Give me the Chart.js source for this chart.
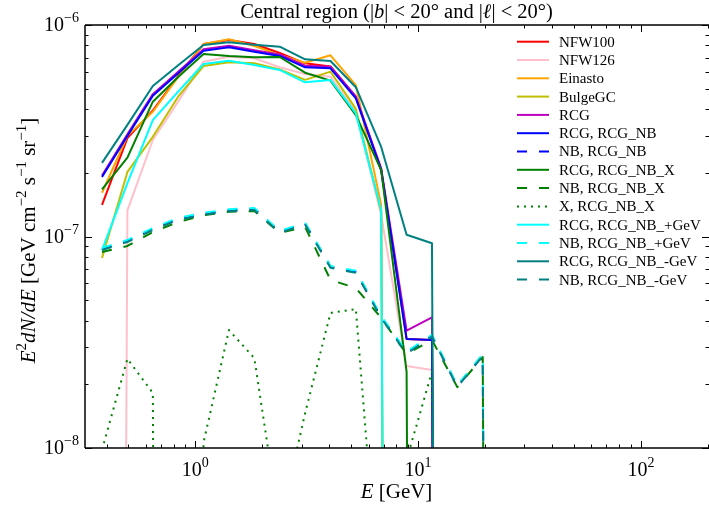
<!DOCTYPE html>
<html>
<head>
<meta charset="utf-8">
<script src="https://cdn.jsdelivr.net/npm/chart.js@4/dist/chart.umd.min.js"></script>
<style>
html,body{margin:0;padding:0;background:#fff;overflow:hidden}
#wrap{width:709px;height:505px;position:relative}
canvas{display:block}
</style>
</head>
<body>
<div id="wrap"><canvas id="c" width="709" height="505"></canvas></div>
<script>
// ---------------- data ----------------
const energyGeV = [0.3815,0.496,0.645,0.838,1.089,1.416,1.841,2.393,3.111,4.045,5.256,6.83,8.88,11.54,15.0,19.5,25.3];

const nfw100     = [1.41e-7,2.92e-7,3.94e-7,5.74e-7,8.13e-7,8.49e-7,8.13e-7,7.37e-7,6.59e-7,6.37e-7,4.59e-7,2.06e-7,3.28e-8,3.24e-8,1e-30,1e-30,1e-30];
const nfw126     = [1e-30,1.33e-7,2.86e-7,4.34e-7,6.71e-7,7.08e-7,6.96e-7,6.31e-7,5.87e-7,5.70e-7,3.89e-7,1.26e-7,2.44e-8,2.34e-8,1e-30,1e-30,1e-30];
const einasto    = [1.61e-7,2.99e-7,3.89e-7,5.68e-7,8.13e-7,8.56e-7,7.96e-7,7.22e-7,6.63e-7,7.19e-7,5.20e-7,1.41e-7,1e-30,1e-30,1e-30,1e-30,1e-30];
const bulgeGC    = [7.91e-8,2.02e-7,2.96e-7,4.58e-7,6.40e-7,6.67e-7,6.59e-7,6.17e-7,5.50e-7,6.02e-7,4.01e-7,1.31e-7,1e-30,1e-30,1e-30,1e-30,1e-30];
const rcg        = [1.94e-7,3.04e-7,4.71e-7,6.01e-7,7.69e-7,7.98e-7,7.60e-7,7.26e-7,6.42e-7,6.35e-7,4.58e-7,2.10e-7,3.59e-8,4.15e-8,1e-30,1e-30,1e-30];
const rcgNB_RCG  = [1.91e-7,2.99e-7,4.63e-7,5.91e-7,7.56e-7,7.85e-7,7.48e-7,7.14e-7,6.31e-7,6.24e-7,4.50e-7,2.06e-7,3.28e-8,3.24e-8,1e-30,1e-30,1e-30];
const rcgNB_NB   = [8.73e-8,9.52e-8,1.085e-7,1.21e-7,1.28e-7,1.33e-7,1.35e-7,1.05e-7,1.15e-7,7.18e-8,6.80e-8,4.16e-8,2.82e-8,3.39e-8,1.96e-8,2.75e-8,1e-30];
const rcgNBX_RCG = [1.67e-7,2.36e-7,4.34e-7,5.68e-7,7.29e-7,7.14e-7,7.04e-7,7.06e-7,5.95e-7,5.46e-7,3.75e-7,2.06e-7,2.29e-8,1e-30,1e-30,1e-30,1e-30];
const rcgNBX_NB  = [8.45e-8,9.02e-8,1.05e-7,1.17e-7,1.26e-7,1.31e-7,1.32e-7,1.04e-7,1.11e-7,6.23e-8,5.71e-8,4.12e-8,2.78e-8,3.24e-8,1.94e-8,2.69e-8,1e-30];
const rcgNBX_X   = [0.98e-8,2.64e-8,1.82e-8,1e-30,1.06e-8,3.61e-8,2.66e-8,4.3e-9,1.46e-8,4.35e-8,4.54e-8,1.44e-9,8.8e-9,2.29e-8,1e-30,1e-30,1e-30];
const rcgNBp_RCG = [8.63e-8,1.79e-7,3.55e-7,4.84e-7,6.54e-7,6.78e-7,6.47e-7,6.13e-7,5.36e-7,5.50e-7,3.82e-7,1.33e-7,1e-30,1e-30,1e-30,1e-30,1e-30];
const rcgNBp_NB  = [8.83e-8,9.62e-8,1.097e-7,1.223e-7,1.294e-7,1.345e-7,1.365e-7,1.062e-7,1.163e-7,7.26e-8,6.88e-8,4.21e-8,2.85e-8,3.43e-8,1.98e-8,2.78e-8,1e-30];
const rcgNBm_RCG = [2.23e-7,3.37e-7,5.15e-7,6.45e-7,8.04e-7,8.28e-7,8.07e-7,7.90e-7,6.88e-7,6.76e-7,5.08e-7,2.65e-7,1.02e-7,9.29e-8,1e-30,1e-30,1e-30];
const rcgNBm_NB  = [8.64e-8,9.42e-8,1.074e-7,1.198e-7,1.267e-7,1.317e-7,1.336e-7,1.04e-7,1.139e-7,7.11e-8,6.73e-8,4.12e-8,2.79e-8,3.36e-8,1.94e-8,2.72e-8,1e-30];

const seriesLabels = ['NFW100','NFW126','Einasto','BulgeGC','RCG','RCG, RCG_NB','NB, RCG_NB','RCG, RCG_NB_X','NB, RCG_NB_X','X, RCG_NB_X','RCG, RCG_NB_+GeV','NB, RCG_NB_+GeV','RCG, RCG_NB_-GeV','NB, RCG_NB_-GeV'];
const seriesValues = [nfw100,nfw126,einasto,bulgeGC,rcg,rcgNB_RCG,rcgNB_NB,rcgNBX_RCG,rcgNBX_NB,rcgNBX_X,rcgNBp_RCG,rcgNBp_NB,rcgNBm_RCG,rcgNBm_NB];
const seriesColors = ['#ff0000','#ffc0cb','#ffa500','#bfbf00','#bf00bf','#0000ff','#0000ff','#008000','#008000','#008000','#00ffff','#00ffff','#008080','#008080'];
const seriesStyles = ['solid','solid','solid','solid','solid','solid','dashed','solid','dashed','dotted','solid','dashed','solid','dashed'];

const xTickExponents = [0,1,2];
const yTickExponents = [-8,-7,-6];
const xRange = [0.32, 200];
const yRange = [1e-8, 1e-6];

// ---------------- chart ----------------
const SERIF = '"Liberation Serif", "DejaVu Serif", serif';
const dashFor = s => s === 'dashed' ? [10, 12] : (s === 'dotted' ? [2, 5] : []);

const N = seriesLabels.length;
const datasets = seriesLabels.map((lab, i) => ({
  label: lab,
  data: energyGeV.map((e, k) => ({x: e, y: seriesValues[i][k]})),
  borderColor: seriesColors[i],
  backgroundColor: seriesColors[i],
  borderWidth: 2,
  borderDash: dashFor(seriesStyles[i]),
  borderCapStyle: 'butt',
  borderJoinStyle: 'round',
  pointRadius: 0,
  tension: 0,
  fill: false,
  clip: 0,
  order: N - i
}));

function richWidth(ctx, segs) {
  let w = 0;
  for (const s of segs) { ctx.font = s.f; w += ctx.measureText(s.t).width; }
  return w;
}
function drawRich(ctx, segs, x, y) {
  let cx = x;
  for (const s of segs) {
    ctx.font = s.f;
    ctx.fillText(s.t, cx, y + (s.dy || 0));
    cx += ctx.measureText(s.t).width;
  }
}
function pow10Segs(e) {
  const ex = e < 0 ? '\u2212' + (-e) : String(e);
  return [{t: '10', f: '20px ' + SERIF}, {t: ex, f: '14px ' + SERIF, dy: -9}];
}

const decor = {
  id: 'decor',
  afterDatasetsDraw(chart) {
    const ctx = chart.ctx, a = chart.chartArea, xs = chart.scales.x, ys = chart.scales.y;
    ctx.save();
    ctx.fillStyle = '#000';
    ctx.strokeStyle = '#000';
    // spines
    ctx.lineWidth = 1.5;
    ctx.beginPath();
    ctx.moveTo(a.left, a.top); ctx.lineTo(a.right + 2, a.top);
    ctx.moveTo(a.left, a.bottom); ctx.lineTo(a.right + 2, a.bottom);
    ctx.moveTo(a.left, a.top); ctx.lineTo(a.left, a.bottom);
    ctx.stroke();
    // ticks (inward)
    ctx.lineWidth = 1;
    const majLen = 7, minLen = 3.5;
    ctx.beginPath();
    for (let e = -1; e <= 2; e++) {
      for (let k = 1; k <= 9; k++) {
        const v = k * Math.pow(10, e);
        if (v < xRange[0] || v > xRange[1]) continue;
        const px = Math.round(xs.getPixelForValue(v)) + 0.5;
        const L = k === 1 ? majLen : minLen;
        ctx.moveTo(px, a.bottom); ctx.lineTo(px, a.bottom - L);
        ctx.moveTo(px, a.top); ctx.lineTo(px, a.top + L);
      }
    }
    for (let e = -8; e <= -6; e++) {
      for (let k = 1; k <= 9; k++) {
        const v = k * Math.pow(10, e);
        if (v < yRange[0] * 0.999 || v > yRange[1] * 1.001) continue;
        const py = Math.round(ys.getPixelForValue(v)) + 0.5;
        const L = k === 1 ? majLen : minLen;
        ctx.moveTo(a.left, py); ctx.lineTo(a.left + L, py);
        ctx.moveTo(a.right + 1, py); ctx.lineTo(a.right + 1 - L, py);
      }
    }
    ctx.stroke();
    // tick labels
    ctx.textBaseline = 'alphabetic';
    ctx.textAlign = 'left';
    for (const e of xTickExponents) {
      const segs = pow10Segs(e);
      const w = richWidth(ctx, segs);
      const px = xs.getPixelForValue(Math.pow(10, e));
      drawRich(ctx, segs, px - w / 2, a.bottom + 28);
    }
    for (const e of yTickExponents) {
      const segs = pow10Segs(e);
      const w = richWidth(ctx, segs);
      const py = ys.getPixelForValue(Math.pow(10, e));
      drawRich(ctx, segs, a.left - 6 - w, py + 6);
    }
    // x label
    const xl = [{t: 'E', f: 'italic 21px ' + SERIF}, {t: ' [GeV]', f: '21px ' + SERIF}];
    drawRich(ctx, xl, (a.left + a.right) / 2 - richWidth(ctx, xl) / 2, 498);
    // y label
    const yl = [
      {t: 'E', f: 'italic 21px ' + SERIF}, {t: '2', f: '15px ' + SERIF, dy: -9},
      {t: 'dN/dE', f: 'italic 21px ' + SERIF},
      {t: ' [GeV cm', f: '21px ' + SERIF}, {t: '\u22122', f: '15px ' + SERIF, dy: -9},
      {t: ' s', f: '21px ' + SERIF}, {t: '\u22121', f: '15px ' + SERIF, dy: -9},
      {t: ' sr', f: '21px ' + SERIF}, {t: '\u22121', f: '15px ' + SERIF, dy: -9},
      {t: ']', f: '21px ' + SERIF}
    ];
    ctx.save();
    ctx.translate(35, (a.top + a.bottom) / 2 + 4);
    ctx.rotate(-Math.PI / 2);
    drawRich(ctx, yl, -richWidth(ctx, yl) / 2, 0);
    ctx.restore();
    // title
    const tl = [
      {t: 'Central region (|', f: '20.5px ' + SERIF}, {t: 'b', f: 'italic 20.5px ' + SERIF},
      {t: '| < 20\u00b0 and |', f: '20.5px ' + SERIF}, {t: '\u2113', f: 'italic 20.5px ' + SERIF},
      {t: '| < 20\u00b0)', f: '20.5px ' + SERIF}
    ];
    drawRich(ctx, tl, (a.left + a.right) / 2 - richWidth(ctx, tl) / 2, 18);
    // legend
    ctx.font = '15px ' + SERIF;
    ctx.textBaseline = 'middle';
    chart.data.datasets.forEach((ds, i) => {
      const ly = 41.7 + i * 18.3;
      ctx.save();
      ctx.strokeStyle = ds.borderColor;
      ctx.lineWidth = 2;
      ctx.lineCap = 'butt';
      ctx.setLineDash(ds.borderDash);
      ctx.beginPath();
      ctx.moveTo(517, ly); ctx.lineTo(549, ly);
      ctx.stroke();
      ctx.restore();
      ctx.fillStyle = '#000';
      ctx.fillText(ds.label, 559, ly + 1);
    });
    ctx.restore();
  }
};

new Chart(document.getElementById('c'), {
  type: 'line',
  data: {datasets},
  options: {
    responsive: false,
    devicePixelRatio: 1,
    animation: false,
    layout: {padding: {left: 85, right: 1, top: 25, bottom: 57}},
    scales: {
      x: {type: 'logarithmic', bounds: 'data', min: xRange[0], max: xRange[1], display: false},
      y: {type: 'logarithmic', bounds: 'data', min: yRange[0], max: yRange[1], display: false}
    },
    plugins: {legend: {display: false}, title: {display: false}, tooltip: {enabled: false}},
    elements: {point: {radius: 0}, line: {tension: 0}}
  },
  plugins: [decor]
});
</script>
</body>
</html>
